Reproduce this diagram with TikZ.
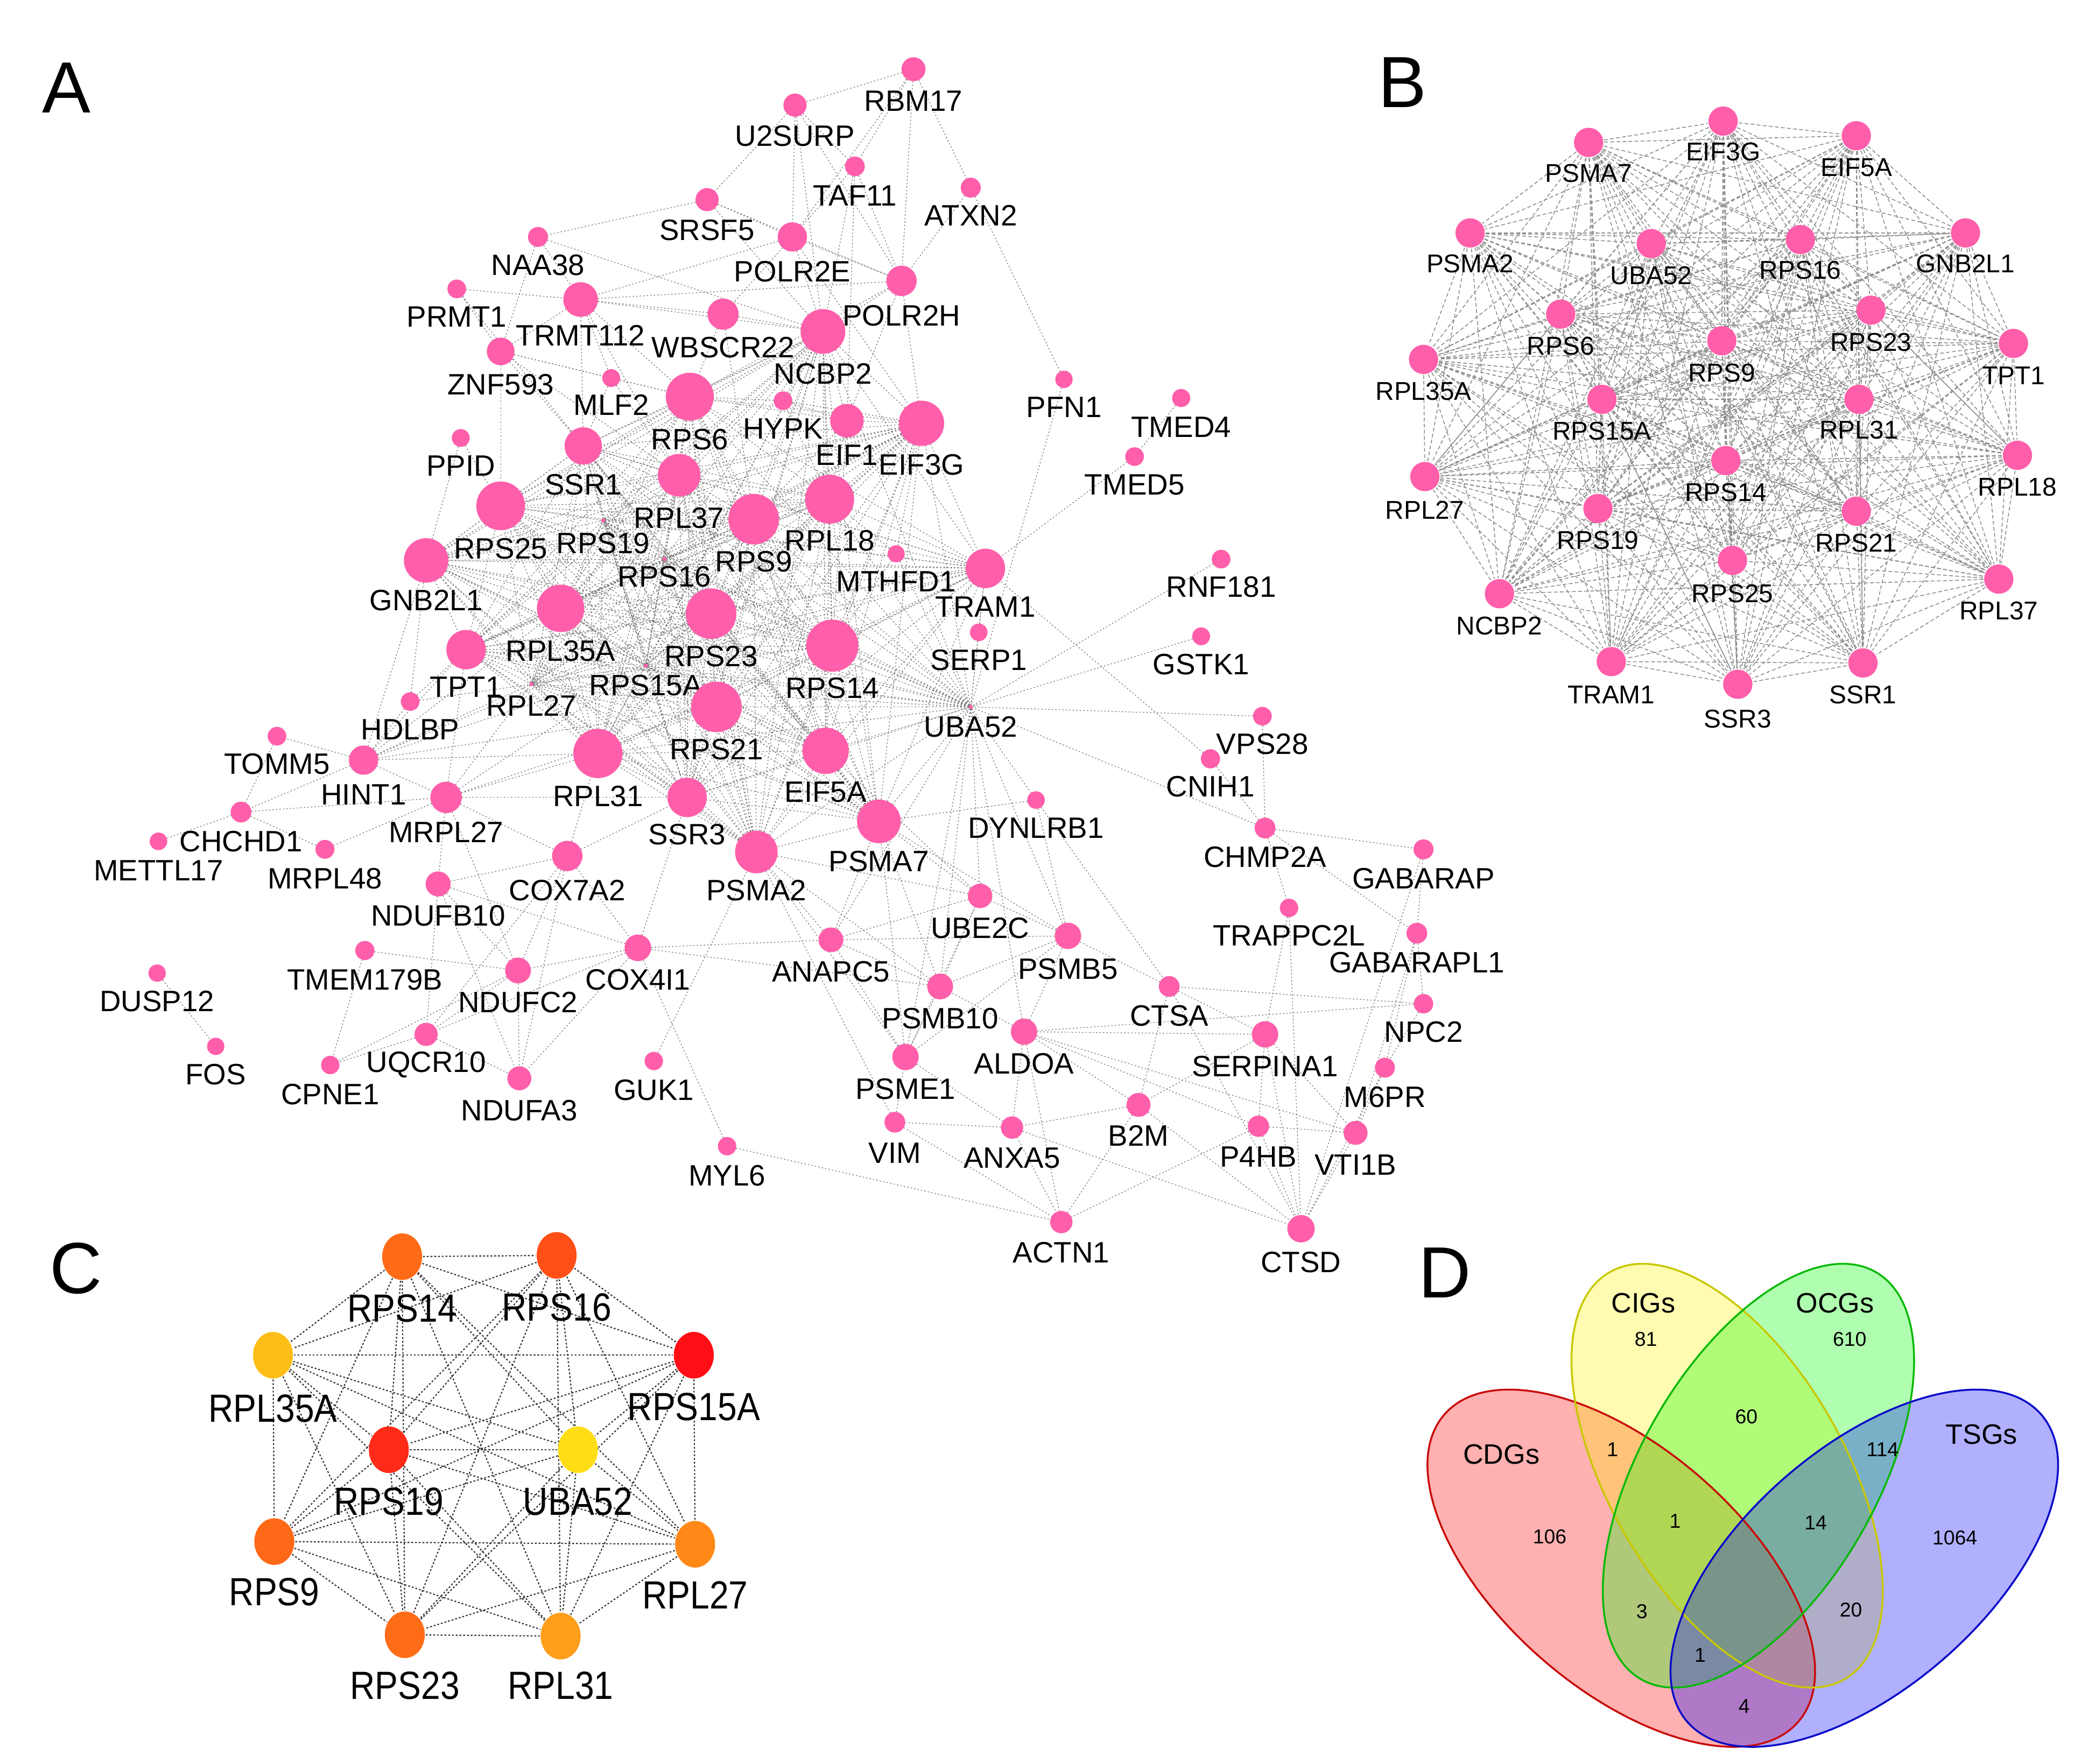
\documentclass[tikz,border=0pt]{standalone}
\usepackage{fontspec}
\setmainfont{Liberation Sans}
\newfontfamily\condfont[FakeStretch=0.88]{Liberation Sans}
\usetikzlibrary{shapes.geometric}
\pgfdeclarelayer{bg}
\pgfsetlayers{bg,main}
\definecolor{pinkA}{RGB}{255,94,170}
\definecolor{cA}{RGB}{255,106,22}
\definecolor{cB}{RGB}{255,78,22}
\definecolor{cC}{RGB}{253,190,24}
\definecolor{cD}{RGB}{255,14,22}
\definecolor{cE}{RGB}{255,42,24}
\definecolor{cF}{RGB}{255,222,22}
\definecolor{cG}{RGB}{255,104,22}
\definecolor{cH}{RGB}{255,136,22}
\definecolor{cI}{RGB}{255,108,24}
\definecolor{cJ}{RGB}{255,158,26}
\definecolor{vR}{RGB}{200,10,10}
\definecolor{vY}{RGB}{200,200,0}
\definecolor{vG}{RGB}{10,185,10}
\definecolor{vB}{RGB}{10,10,200}
\tikzset{
 gA/.style={circle, fill=pinkA, inner sep=0pt, outer sep=0pt},
 lA/.style={inner sep=0pt, font=\fontsize{6.3}{7}\selectfont},
 eA/.style={draw=black!55, line width=0.14pt, dash pattern=on 0.3pt off 0.45pt},
 gB/.style={circle, fill=pinkA, inner sep=0pt, minimum size=2.2mm},
 lB/.style={inner sep=0pt, font=\fontsize{5.5}{6}\selectfont},
 eB/.style={draw=black!45, line width=0.18pt, dash pattern=on 0.8pt off 0.5pt},
 gC/.style={ellipse, inner sep=0pt, minimum width=3mm, minimum height=3.5mm},
 lC/.style={inner sep=0pt, font=\condfont\fontsize{8.4}{9}\selectfont},
 eC/.style={draw=black!80, line width=0.25pt, dash pattern=on 0.4pt off 0.4pt},
 panel/.style={inner sep=0pt, font=\fontsize{15.5}{16}\selectfont},
 setlbl/.style={inner sep=0pt, font=\fontsize{6}{7}\selectfont},
 num/.style={inner sep=0pt, font=\fontsize{4.3}{5}\selectfont},
}
\newcommand{\ga}[5]{\node[gA, minimum size=#4*0.2mm] (A-#1) at (#2,#3) {};
  \node[lA] (A-#1-l) at (#2,#5) {#1};}
\newcommand{\gbn}[4]{\node[gB] (B-#1) at (#2,#3) {};
  \node[lB] (B-#1-l) at (#2,#4) {#1};}
\newcommand{\gcn}[5]{\node[gC, fill=#5] (C-#1) at (#2,#3) {};
  \node[lC] (C-#1-l) at (#2,#4) {#1};}
\def\coreA{PSMA7,EIF3G,EIF5A,PSMA2,UBA52,RPS16,GNB2L1,RPS6,RPS9,RPS23,TPT1,RPL35A,RPS15A,RPL31,RPL18,RPL27,RPS14,RPS19,RPS21,RPL37,RPS25,NCBP2,TRAM1,SSR3,SSR1}
\def\coreC{RPS14,RPS16,RPL35A,RPS15A,RPS19,UBA52,RPS9,RPL27,RPS23,RPL31}
\begin{document}
\begin{tikzpicture}[x=0.1mm,y=-0.1mm]
\useasboundingbox (0,0) rectangle (1568,1325);
% panel letters
\node[panel] (LA) at (50,66) {A};
\node[panel] (LB) at (1053,62) {B};
\node[panel] (LC) at (57,953) {C};
\node[panel] (LD) at (1085,956) {D};
% ---------------- panel A nodes
\ga{RBM17}{686}{52}{9}{76}
\ga{U2SURP}{597}{79}{8.7}{102}
\ga{TAF11}{642}{125}{7.4}{147}
\ga{ATXN2}{729}{141}{7.5}{162}
\ga{SRSF5}{531}{150}{8.7}{173}
\ga{POLR2E}{595}{178}{11}{204}
\ga{NAA38}{404}{178}{7.5}{199}
\ga{POLR2H}{677}{211}{11.4}{237}
\ga{PRMT1}{343}{217}{7}{238}
\ga{TRMT112}{436}{225}{13}{252}
\ga{WBSCR22}{543}{236}{11.7}{261}
\ga{NCBP2}{618}{249}{16.8}{281}
\ga{ZNF593}{376}{264}{10.4}{289}
\ga{MLF2}{459}{284}{6.7}{304}
\ga{RPS6}{518}{298}{18}{330}
\ga{HYPK}{588}{301}{7}{322}
\ga{EIF1}{636}{316}{12.6}{342}
\ga{EIF3G}{692}{318}{17}{349}
\ga{PFN1}{799}{285}{6.5}{306}
\ga{TMED4}{887}{299}{6.8}{321}
\ga{TMED5}{852}{343}{7}{364}
\ga{PPID}{346}{329}{6.7}{350}
\ga{SSR1}{438}{335}{14}{364}
\ga{RPL37}{510}{357}{16}{389}
\ga{RPS9}{566}{390}{19}{422}
\ga{RPL18}{623}{375}{18.4}{406}
\ga{RPS25}{376}{380}{18.3}{412}
\ga{RPS19}{453}{391}{1.5}{408}
\ga{RPS16}{499}{420}{1.5}{433}
\ga{GNB2L1}{320}{421}{16.7}{451}
\ga{MTHFD1}{673}{416}{6.4}{437}
\ga{TRAM1}{740}{427}{14.8}{456}
\ga{RNF181}{917}{420}{7}{441}
\ga{RPL35A}{421}{457}{17.8}{489}
\ga{RPS23}{534}{461}{19}{493}
\ga{SERP1}{735}{475}{6.6}{496}
\ga{GSTK1}{902}{478}{6.7}{499}
\ga{TPT1}{350}{488}{14.8}{516}
\ga{RPS14}{625}{485}{19.6}{517}
\ga{RPS15A}{485}{500}{1.5}{515}
\ga{RPL27}{399}{514}{1.5}{530}
\ga{RPS21}{538}{531}{19}{563}
\ga{HDLBP}{308}{527}{7}{548}
\ga{UBA52}{729}{531}{1.5}{546}
\ga{VPS28}{948}{538}{7}{559}
\ga{TOMM5}{208}{553}{7}{574}
\ga{HINT1}{273}{571}{11}{597}
\ga{RPL31}{449}{566}{18.5}{598}
\ga{EIF5A}{620}{564}{17.4}{595}
\ga{CNIH1}{909}{570}{7.2}{591}
\ga{MRPL27}{335}{599}{11.8}{625}
\ga{SSR3}{516}{599}{14.8}{627}
\ga{CHCHD1}{181}{610}{7.8}{632}
\ga{DYNLRB1}{778}{601}{6.6}{622}
\ga{PSMA7}{660}{617}{16.4}{647}
\ga{CHMP2A}{950}{622}{7.8}{644}
\ga{METTL17}{119}{632}{6.6}{654}
\ga{MRPL48}{244}{638}{7.1}{660}
\ga{GABARAP}{1069}{638}{7.5}{660}
\ga{COX7A2}{426}{643}{11.4}{669}
\ga{PSMA2}{568}{640}{16}{669}
\ga{NDUFB10}{329}{664}{9.4}{688}
\ga{UBE2C}{736}{673}{9.2}{697}
\ga{TRAPPC2L}{968}{682}{6.9}{703}
\ga{ANAPC5}{624}{706}{9.3}{730}
\ga{PSMB5}{802}{703}{9.9}{728}
\ga{GABARAPL1}{1064}{701}{7.8}{723}
\ga{TMEM179B}{274}{714}{7.2}{736}
\ga{COX4I1}{479}{712}{10}{736}
\ga{NDUFC2}{389}{729}{9.7}{753}
\ga{DUSP12}{118}{731}{6.5}{752}
\ga{PSMB10}{706}{741}{9.7}{765}
\ga{CTSA}{878}{741}{7.8}{763}
\ga{NPC2}{1069}{754}{7.3}{775}
\ga{ALDOA}{769}{775}{9.9}{799}
\ga{SERPINA1}{950}{777}{9.9}{801}
\ga{UQCR10}{320}{777}{8.7}{800}
\ga{FOS}{162}{786}{6.5}{807}
\ga{CPNE1}{248}{800}{6.9}{822}
\ga{NDUFA3}{390}{810}{9}{834}
\ga{GUK1}{491}{797}{6.9}{819}
\ga{PSME1}{680}{794}{9.9}{818}
\ga{M6PR}{1040}{802}{7.5}{824}
\ga{B2M}{855}{830}{9}{853}
\ga{VIM}{672}{843}{7.8}{866}
\ga{ANXA5}{760}{847}{8.4}{870}
\ga{P4HB}{945}{846}{8}{869}
\ga{VTI1B}{1018}{851}{9}{875}
\ga{MYL6}{546}{861}{6.9}{883}
\ga{ACTN1}{797}{918}{8.4}{941}
\ga{CTSD}{977}{923}{10.3}{948}
% ---------------- panel B nodes
\gbn{EIF3G}{1294}{91}{114}
\gbn{PSMA7}{1193}{107}{130}
\gbn{EIF5A}{1394}{102}{126}
\gbn{PSMA2}{1104}{175}{198}
\gbn{UBA52}{1240}{183}{207}
\gbn{RPS16}{1352}{180}{203}
\gbn{GNB2L1}{1476}{175}{198}
\gbn{RPS6}{1172}{236}{260}
\gbn{RPS23}{1405}{233}{257}
\gbn{RPS9}{1293}{256}{280}
\gbn{TPT1}{1512}{258}{282}
\gbn{RPL35A}{1069}{270}{294}
\gbn{RPS15A}{1203}{300}{324}
\gbn{RPL31}{1396}{300}{323}
\gbn{RPL18}{1515}{342}{366}
\gbn{RPL27}{1070}{358}{383}
\gbn{RPS14}{1296}{346}{370}
\gbn{RPS19}{1200}{382}{406}
\gbn{RPS21}{1394}{384}{408}
\gbn{RPS25}{1301}{421}{446}
\gbn{RPL37}{1501}{435}{459}
\gbn{NCBP2}{1126}{446}{470}
\gbn{TRAM1}{1210}{497}{522}
\gbn{SSR3}{1305}{514}{540}
\gbn{SSR1}{1399}{498}{522}
% ---------------- panel C nodes
\gcn{RPS14}{302}{944}{983}{cA}
\gcn{RPS16}{418}{943}{982}{cB}
\gcn{RPL35A}{205}{1018}{1058}{cC}
\gcn{RPS15A}{521}{1018}{1057}{cD}
\gcn{RPS19}{292}{1089}{1128}{cE}
\gcn{UBA52}{434}{1089}{1128}{cF}
\gcn{RPS9}{206}{1158}{1196}{cG}
\gcn{RPL27}{522}{1160}{1198}{cH}
\gcn{RPS23}{304}{1228}{1266}{cI}
\gcn{RPL31}{421}{1229}{1266}{cJ}
% ---------------- edges
\begin{pgfonlayer}{bg}
\foreach \a [count=\i] in \coreA {
  \foreach \b [count=\j] in \coreA {
    \ifnum\j>\i \draw[eA] (A-\a) -- (A-\b); \draw[eB] (B-\a) -- (B-\b); \fi
  }
}
\foreach \a [count=\i] in \coreC {
  \foreach \b [count=\j] in \coreC {
    \ifnum\j>\i \draw[eC] (C-\a) -- (C-\b); \fi
  }
}
\foreach \a/\b in {RBM17/U2SURP, RBM17/POLR2E, RBM17/POLR2H, RBM17/ATXN2, RBM17/TAF11,
 U2SURP/SRSF5, U2SURP/POLR2E, U2SURP/TAF11, U2SURP/POLR2H, U2SURP/NCBP2,
 TAF11/POLR2E, TAF11/POLR2H, TAF11/NCBP2, TAF11/EIF1,
 ATXN2/POLR2H, ATXN2/PFN1,
 SRSF5/POLR2E, SRSF5/NAA38, SRSF5/POLR2H, SRSF5/NCBP2,
 POLR2E/POLR2H, POLR2E/NCBP2, POLR2E/WBSCR22, POLR2E/TRMT112, POLR2E/EIF3G,
 POLR2H/NCBP2, POLR2H/EIF3G, POLR2H/EIF1, POLR2H/TRMT112, POLR2H/RPS6,
 NAA38/TRMT112, NAA38/NCBP2, NAA38/ZNF593,
 PRMT1/TRMT112, PRMT1/ZNF593, PRMT1/SSR1,
 TRMT112/WBSCR22, TRMT112/ZNF593, TRMT112/RPS6, TRMT112/MLF2, TRMT112/SSR1, TRMT112/NCBP2, TRMT112/RPL37,
 WBSCR22/NCBP2, WBSCR22/RPS6, WBSCR22/RPS9,
 ZNF593/SSR1, ZNF593/RPS25, ZNF593/MLF2, ZNF593/RPS6, ZNF593/RPL37,
 MLF2/RPS6, MLF2/SSR1, MLF2/RPL37,
 HYPK/EIF1, HYPK/RPS6, HYPK/NCBP2, HYPK/EIF3G, HYPK/RPL18,
 EIF1/EIF3G, EIF1/RPL18, EIF1/RPS9, EIF1/RPS14, EIF1/NCBP2, EIF1/RPS6,
 PPID/GNB2L1, PPID/RPS25,
 PFN1/UBA52, TMED4/TMED5, TMED5/TRAM1,
 MTHFD1/UBA52, MTHFD1/RPL18, MTHFD1/RPS14, MTHFD1/EIF3G,
 SERP1/UBA52, SERP1/TRAM1,
 RNF181/UBA52, GSTK1/UBA52, VPS28/UBA52, VPS28/CHMP2A,
 CNIH1/TRAM1, CNIH1/CHMP2A,
 CHMP2A/UBA52, CHMP2A/GABARAP, CHMP2A/GABARAPL1, CHMP2A/TRAPPC2L,
 DYNLRB1/UBA52, DYNLRB1/PSMB5, DYNLRB1/CTSA, DYNLRB1/PSMA7,
 UBA52/UBE2C, UBA52/PSMB5, UBA52/ANAPC5, UBA52/PSMB10, UBA52/PSME1, UBA52/ALDOA,
 GABARAP/GABARAPL1, GABARAP/CTSD,
 GABARAPL1/M6PR, GABARAPL1/VTI1B, GABARAPL1/NPC2,
 NPC2/M6PR, NPC2/CTSA, NPC2/ALDOA,
 M6PR/VTI1B, M6PR/CTSD,
 TRAPPC2L/SERPINA1, TRAPPC2L/CTSD,
 CTSA/PSMB5, CTSA/SERPINA1, CTSA/CTSD, CTSA/B2M,
 SERPINA1/ALDOA, SERPINA1/P4HB, SERPINA1/B2M, SERPINA1/CTSD, SERPINA1/VTI1B,
 P4HB/CTSD, P4HB/VTI1B, P4HB/ACTN1, P4HB/ALDOA,
 VTI1B/CTSD, VTI1B/ALDOA,
 B2M/ALDOA, B2M/ANXA5, B2M/ACTN1, B2M/CTSD,
 ALDOA/ANXA5, ALDOA/PSMB10, ALDOA/ACTN1, ALDOA/PSMB5,
 ANXA5/VIM, ANXA5/ACTN1, ANXA5/PSME1, ANXA5/CTSD,
 VIM/PSME1, VIM/ACTN1, VIM/PSMA2,
 MYL6/ACTN1, MYL6/COX4I1,
 PSMB5/PSMB10, PSMB5/UBE2C, PSMB5/ANAPC5, PSMB5/PSMA7, PSMB5/PSME1,
 PSMB10/UBE2C, PSMB10/PSME1, PSMB10/ANAPC5, PSMB10/PSMA7, PSMB10/PSMA2,
 PSME1/PSMA2, PSME1/PSMA7, PSME1/ANAPC5, PSME1/UBE2C,
 ANAPC5/UBE2C, ANAPC5/PSMA2, ANAPC5/PSMA7,
 UBE2C/PSMA7, UBE2C/PSMA2, UBE2C/EIF5A,
 COX4I1/SSR3, COX4I1/ANAPC5, COX4I1/PSMB10, GUK1/PSMA2,
 HINT1/TOMM5, HINT1/CHCHD1, HINT1/MRPL27, HINT1/RPL27, HINT1/TPT1, HINT1/RPS21, HINT1/RPL31,
 HINT1/RPS15A, HINT1/RPS23, HINT1/RPL35A, HINT1/GNB2L1,
 HDLBP/GNB2L1, HDLBP/RPL27, HDLBP/TPT1, HDLBP/HINT1,
 TOMM5/CHCHD1, CHCHD1/METTL17, CHCHD1/MRPL48, CHCHD1/MRPL27, MRPL48/MRPL27,
 MRPL27/NDUFB10, MRPL27/COX7A2, MRPL27/RPL31, MRPL27/RPL27, MRPL27/RPS21, MRPL27/TPT1,
 MRPL27/RPS15A, MRPL27/SSR3, MRPL27/NDUFC2,
 NDUFB10/COX7A2, NDUFB10/NDUFC2, NDUFB10/COX4I1, NDUFB10/UQCR10, NDUFB10/NDUFA3,
 TMEM179B/NDUFC2, TMEM179B/CPNE1,
 COX7A2/COX4I1, COX7A2/NDUFC2, COX7A2/NDUFA3, COX7A2/RPL31, COX7A2/SSR3, COX7A2/UQCR10,
 COX4I1/NDUFC2, COX4I1/UQCR10, COX4I1/NDUFA3,
 NDUFC2/UQCR10, NDUFC2/NDUFA3, NDUFC2/CPNE1,
 UQCR10/NDUFA3, UQCR10/CPNE1, DUSP12/FOS}
 {\draw[eA] (A-\a) -- (A-\b);}
\end{pgfonlayer}
% ---------------- panel D (Venn)
\begin{scope}[line width=0.4pt]
\fill[red, fill opacity=0.31, rotate around={-41:(1217.5,1178)}] (1217.5,1178) ellipse [x radius=17.6mm, y radius=9.05mm];
\fill[yellow, fill opacity=0.31, rotate around={-60:(1297,1108.5)}] (1297,1108.5) ellipse [x radius=17.65mm, y radius=8.85mm];
\fill[green, fill opacity=0.31, rotate around={60:(1320.5,1108.5)}] (1320.5,1108.5) ellipse [x radius=17.65mm, y radius=8.85mm];
\fill[blue, fill opacity=0.31, rotate around={41:(1400,1178)}] (1400,1178) ellipse [x radius=17.6mm, y radius=9.05mm];
\draw[vR, rotate around={-41:(1217.5,1178)}] (1217.5,1178) ellipse [x radius=17.6mm, y radius=9.05mm];
\draw[vY, rotate around={-60:(1297,1108.5)}] (1297,1108.5) ellipse [x radius=17.65mm, y radius=8.85mm];
\draw[vG, rotate around={60:(1320.5,1108.5)}] (1320.5,1108.5) ellipse [x radius=17.65mm, y radius=8.85mm];
\draw[vB, rotate around={41:(1400,1178)}] (1400,1178) ellipse [x radius=17.6mm, y radius=9.05mm];
\end{scope}
\node[setlbl] (CIGs) at (1234,979) {CIGs};
\node[setlbl] (OCGs) at (1378,979) {OCGs};
\node[setlbl] (CDGs) at (1127.5,1092.5) {CDGs};
\node[setlbl] (TSGs) at (1488,1077.5) {TSGs};
\node[num] (n81) at (1236,1006) {81};
\node[num] (n610) at (1389,1006) {610};
\node[num] (n60) at (1311.5,1064) {60};
\node[num] (n1a) at (1211,1088.7) {1};
\node[num] (n114) at (1413.7,1088.7) {114};
\node[num] (n1b) at (1258,1142.5) {1};
\node[num] (n14) at (1363.5,1143.7) {14};
\node[num] (n106) at (1163.8,1154.3) {106};
\node[num] (n1064) at (1468,1155) {1064};
\node[num] (n3) at (1233,1210.4) {3};
\node[num] (n20) at (1390,1209.4) {20};
\node[num] (n1c) at (1276.8,1243.2) {1};
\node[num] (n4) at (1309.8,1281.8) {4};
\end{tikzpicture}
\end{document}
